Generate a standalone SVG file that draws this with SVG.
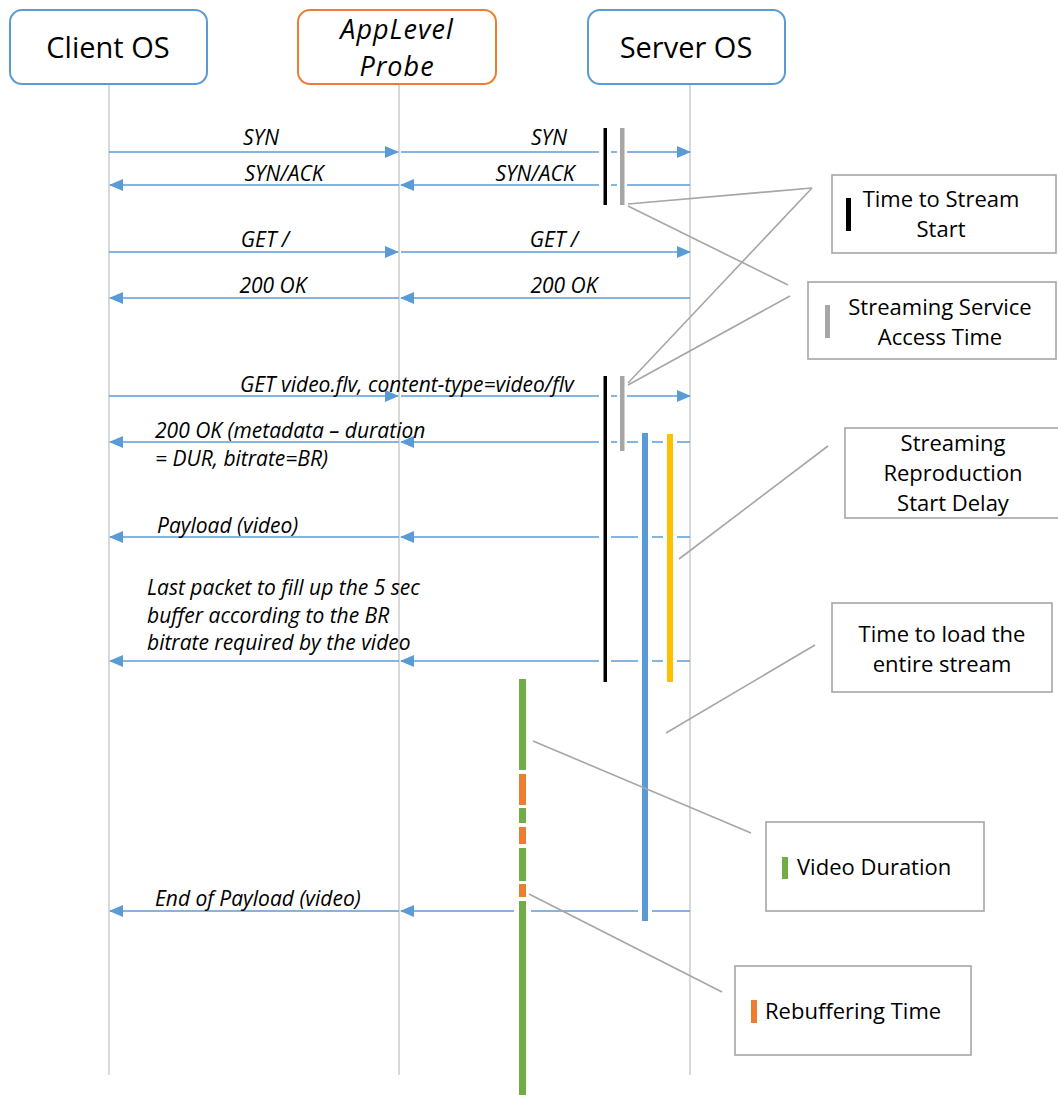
<svg xmlns="http://www.w3.org/2000/svg" width="1058" height="1095" viewBox="0 0 1058 1095">
<defs>
<style>
.hdr{fill:#fff;stroke-width:2}
.blue{stroke:#5B9BD5}
.orng{stroke:#ED7D31}
.htxt{font-family:"Open Sans","Liberation Sans",sans-serif;font-size:29px;fill:#000;text-anchor:middle}
.hit{font-style:italic;font-size:27px;letter-spacing:1px}
.life{stroke:#BFBFBF;stroke-width:1.2;fill:none}
.msg{stroke:#5B9BD5;stroke-width:1.3;fill:none}
.lbl{font-family:"Open Sans","Liberation Sans",sans-serif;font-style:italic;font-size:21px;fill:#000}
.mid{text-anchor:middle}
.halo{fill:#fff}
.lead{stroke:#A6A6A6;stroke-width:1.6;fill:none}
.box{fill:#fff;stroke:#A6A6A6;stroke-width:1.6}
.btxt{font-family:"Open Sans","Liberation Sans",sans-serif;font-size:22px;fill:#000;text-anchor:middle}
.bl{font-family:"Open Sans","Liberation Sans",sans-serif;font-size:22px;fill:#000;text-anchor:start}
</style>
<marker id="ah" markerUnits="userSpaceOnUse" markerWidth="14" markerHeight="12" viewBox="0 0 14 12" refX="13" refY="6" orient="auto">
<path d="M0,0 L14,6 L0,12 Z" fill="#5B9BD5"/>
</marker>
</defs>
<rect width="1058" height="1095" fill="#fff"/>

<g id="lifelines">
<line class="life" x1="109" y1="84" x2="109" y2="1075"/>
<line class="life" x1="399" y1="84" x2="399" y2="1075"/>
<line class="life" x1="690" y1="84" x2="690" y2="1075"/>
</g>

<g id="node-client">
<rect class="hdr blue" x="10" y="10" width="197" height="74" rx="12"/>
<text class="htxt" x="108" y="58">Client OS</text>
</g>
<g id="node-probe">
<rect class="hdr orng" x="298" y="10" width="198" height="74" rx="12"/>
<text class="htxt hit" x="397" y="39">AppLevel</text>
<text class="htxt hit" x="397" y="76">Probe</text>
</g>
<g id="node-server">
<rect class="hdr blue" x="588" y="10" width="197" height="74" rx="12"/>
<text class="htxt" x="686" y="58">Server OS</text>
</g>

<g id="connectors">
<line class="msg" x1="109" y1="152" x2="398" y2="152" marker-end="url(#ah)"/>
<line class="msg" x1="401" y1="152" x2="690" y2="152" marker-end="url(#ah)"/>
<line class="msg" x1="690" y1="185" x2="401" y2="185" marker-end="url(#ah)"/>
<line class="msg" x1="399" y1="185" x2="110" y2="185" marker-end="url(#ah)"/>
<line class="msg" x1="109" y1="252" x2="398" y2="252" marker-end="url(#ah)"/>
<line class="msg" x1="401" y1="252" x2="690" y2="252" marker-end="url(#ah)"/>
<line class="msg" x1="690" y1="298" x2="401" y2="298" marker-end="url(#ah)"/>
<line class="msg" x1="399" y1="298" x2="110" y2="298" marker-end="url(#ah)"/>
<line class="msg" x1="109" y1="396" x2="398" y2="396" marker-end="url(#ah)"/>
<line class="msg" x1="401" y1="396" x2="690" y2="396" marker-end="url(#ah)"/>
<line class="msg" x1="690" y1="442" x2="401" y2="442" marker-end="url(#ah)"/>
<line class="msg" x1="399" y1="442" x2="110" y2="442" marker-end="url(#ah)"/>
<line class="msg" x1="690" y1="537" x2="401" y2="537" marker-end="url(#ah)"/>
<line class="msg" x1="399" y1="537" x2="110" y2="537" marker-end="url(#ah)"/>
<line class="msg" x1="690" y1="661" x2="401" y2="661" marker-end="url(#ah)"/>
<line class="msg" x1="399" y1="661" x2="110" y2="661" marker-end="url(#ah)"/>
<line class="msg" x1="690" y1="911" x2="401" y2="911" marker-end="url(#ah)"/>
<line class="msg" x1="399" y1="911" x2="110" y2="911" marker-end="url(#ah)"/>
</g>

<g id="labels">
<text class="lbl mid" x="261" y="145">SYN</text>
<text class="lbl mid" x="549" y="145">SYN</text>
<text class="lbl mid" x="284" y="181">SYN/ACK</text>
<text class="lbl mid" x="535" y="181">SYN/ACK</text>
<text class="lbl mid" x="265" y="247">GET /</text>
<text class="lbl mid" x="554" y="247">GET /</text>
<text class="lbl mid" x="273" y="293">200 OK</text>
<text class="lbl mid" x="564" y="293">200 OK</text>
<text class="lbl" x="240" y="392">GET video.flv, content-type=video/flv</text>
<text class="lbl" x="155" y="438">200 OK (metadata – duration</text>
<text class="lbl" x="155" y="466">= DUR, bitrate=BR)</text>
<text class="lbl" x="157" y="533">Payload (video)</text>
<text class="lbl" x="147" y="595">Last packet to fill up the 5 sec</text>
<text class="lbl" x="147" y="623">buffer according to the BR</text>
<text class="lbl" x="147" y="650">bitrate required by the video</text>
<text class="lbl" x="155" y="906">End of Payload (video)</text>
</g>

<g id="bars">
<rect class="halo" x="599" y="128" width="12" height="77"/>
<rect class="halo" x="617" y="128" width="10" height="77"/>
<rect class="halo" x="599" y="376" width="12" height="306"/>
<rect class="halo" x="617" y="376" width="10" height="75"/>
<rect class="halo" x="638" y="433" width="14" height="488"/>
<rect class="halo" x="663" y="434" width="14" height="248"/>
<rect class="halo" x="514" y="679" width="17" height="416"/>
<rect x="603.5" y="128" width="3.5" height="77" fill="#000"/>
<rect x="620" y="128" width="4.5" height="77" fill="#A6A6A6"/>
<rect x="603.5" y="376" width="3.5" height="306" fill="#000"/>
<rect x="620" y="376" width="4.5" height="75" fill="#A6A6A6"/>
<rect x="642" y="433" width="6" height="488" fill="#5B9BD5"/>
<rect x="667" y="434" width="6" height="248" fill="#FFC000"/>
<rect x="519" y="679" width="7" height="91" fill="#70AD47"/>
<rect x="519" y="774" width="7" height="31" fill="#ED7D31"/>
<rect x="519" y="808" width="7" height="15" fill="#70AD47"/>
<rect x="519" y="827" width="7" height="17" fill="#ED7D31"/>
<rect x="519" y="848" width="7" height="33" fill="#70AD47"/>
<rect x="519" y="884" width="7" height="13" fill="#ED7D31"/>
<rect x="519" y="901" width="7" height="194" fill="#70AD47"/>
</g>

<g id="leaders">
<line class="lead" x1="628" y1="204" x2="812" y2="188"/>
<line class="lead" x1="628" y1="206" x2="788" y2="285"/>
<line class="lead" x1="628" y1="383" x2="812" y2="188"/>
<line class="lead" x1="628" y1="385" x2="790" y2="296"/>
<line class="lead" x1="679" y1="559" x2="828" y2="446"/>
<line class="lead" x1="666" y1="733" x2="815" y2="645"/>
<line class="lead" x1="533" y1="741" x2="751" y2="833"/>
<line class="lead" x1="529" y1="894" x2="722" y2="992"/>
</g>

<g id="legend-tss">
<rect class="box" x="832" y="175" width="224" height="78"/>
<rect x="846" y="198" width="5" height="33" fill="#000"/>
<text class="btxt" x="941" y="207">Time to Stream</text>
<text class="btxt" x="941" y="237">Start</text>
</g>
<g id="legend-ssat">
<rect class="box" x="808" y="282" width="248" height="77"/>
<rect x="825" y="305" width="5" height="33" fill="#A6A6A6"/>
<text class="btxt" x="940" y="315">Streaming Service</text>
<text class="btxt" x="940" y="345">Access Time</text>
</g>
<g id="legend-srsd">
<rect class="box" x="845" y="428" width="215" height="90"/>
<text class="btxt" x="953" y="451">Streaming</text>
<text class="btxt" x="953" y="481">Reproduction</text>
<text class="btxt" x="953" y="511">Start Delay</text>
</g>
<g id="legend-tles">
<rect class="box" x="832" y="603" width="220" height="89"/>
<text class="btxt" x="942" y="642">Time to load the</text>
<text class="btxt" x="942" y="672">entire stream</text>
</g>
<g id="legend-vd">
<rect class="box" x="766" y="822" width="218" height="89"/>
<rect x="782" y="857" width="6" height="22" fill="#70AD47"/>
<text class="bl" x="797" y="875">Video Duration</text>
</g>
<g id="legend-rt">
<rect class="box" x="735" y="966" width="236" height="89"/>
<rect x="751" y="1000" width="6" height="23" fill="#ED7D31"/>
<text class="bl" x="765" y="1019">Rebuffering Time</text>
</g>
</svg>
